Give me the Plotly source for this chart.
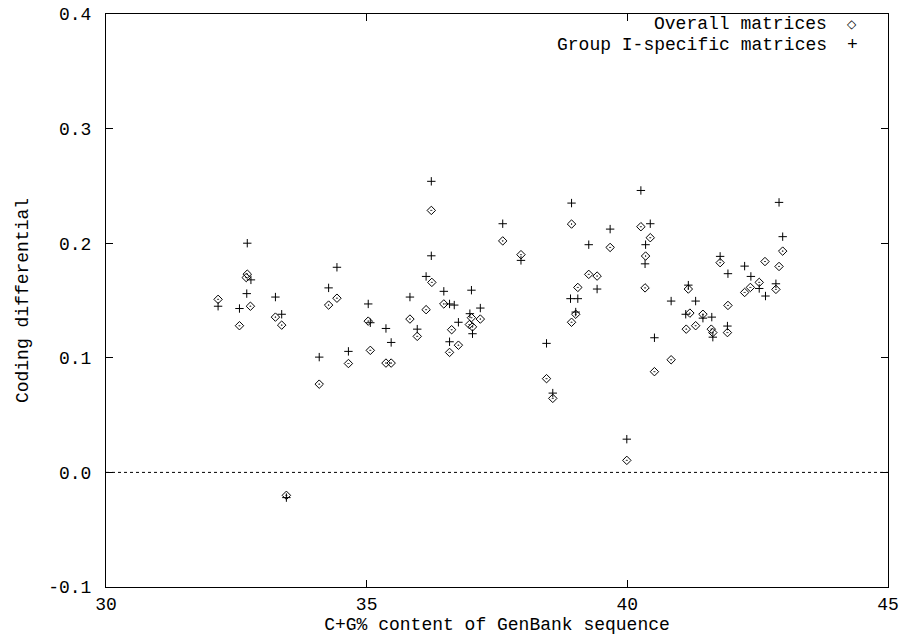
import plotly.graph_objects as go

# Overall matrices (diamonds)
overall_x = [32.15, 32.56, 32.71, 32.69, 32.77, 33.25, 33.37, 33.46, 34.09, 34.27,
             34.43, 34.65, 35.03, 35.07, 35.37, 35.47, 35.83, 35.97, 36.14, 36.24,
             36.25, 36.48, 36.63, 36.59, 36.76, 37.01, 36.97, 37.03, 37.18, 37.61,
             37.96, 38.45, 38.57, 38.93, 38.93, 39.01, 39.05, 39.26, 39.42, 39.67,
             39.99, 40.26, 40.44, 40.35, 40.34, 40.52, 40.84, 41.17, 41.20, 41.13,
             41.31, 41.45, 41.61, 41.64, 41.78, 41.93, 41.92, 42.25, 42.36, 42.53,
             42.64, 42.85, 42.91, 42.98]
overall_y = [0.151, 0.128, 0.173, 0.170, 0.145, 0.1355, 0.1285, -0.020, 0.077, 0.146,
             0.152, 0.095, 0.132, 0.1065, 0.0954, 0.0954, 0.1338, 0.1187, 0.142, 0.2286,
             0.1658, 0.147, 0.1245, 0.1047, 0.111, 0.135, 0.129, 0.127, 0.1338, 0.202,
             0.190, 0.0818, 0.0646, 0.2167, 0.131, 0.138, 0.1614, 0.1728, 0.1713, 0.1963,
             0.0105, 0.2144, 0.2048, 0.1888, 0.161, 0.0879, 0.0983, 0.160, 0.139, 0.125,
             0.128, 0.138, 0.125, 0.122, 0.183, 0.1457, 0.122, 0.157, 0.1614, 0.1658,
             0.184, 0.1597, 0.1797, 0.1931]

# Group I-specific matrices (plus signs)
group_x = [32.15, 32.56, 32.71, 32.78, 32.70, 33.25, 33.37, 33.46, 34.09, 34.27,
           34.43, 34.65, 35.03, 35.07, 35.37, 35.47, 35.83, 35.97, 36.14, 36.24,
           36.24, 36.48, 36.59, 36.68, 36.76, 36.59, 37.01, 36.98, 37.03, 37.18,
           37.61, 37.96, 38.45, 38.57, 38.93, 38.91, 39.05, 39.01, 39.26, 39.42,
           39.67, 39.99, 40.26, 40.44, 40.35, 40.34, 40.52, 40.84, 41.17, 41.31,
           41.12, 41.45, 41.62, 41.64, 41.78, 41.93, 41.92, 42.25, 42.37, 42.53,
           42.65, 42.85, 42.91, 42.98]
group_y = [0.145, 0.143, 0.200, 0.168, 0.156, 0.153, 0.138, -0.022, 0.1006, 0.161,
           0.179, 0.1056, 0.147, 0.1306, 0.1256, 0.1134, 0.153, 0.125, 0.171, 0.254,
           0.189, 0.158, 0.147, 0.146, 0.131, 0.114, 0.159, 0.1385, 0.121, 0.1434,
           0.217, 0.185, 0.1126, 0.0692, 0.235, 0.1516, 0.1516, 0.1399, 0.1987, 0.160,
           0.2123, 0.029, 0.246, 0.217, 0.1987, 0.182, 0.1175, 0.1495, 0.1634, 0.1495,
           0.138, 0.1346, 0.1355, 0.118, 0.1885, 0.1734, 0.1277, 0.180, 0.171, 0.1605,
           0.1539, 0.1646, 0.2356, 0.2057]

x_ticks = [30, 35, 40, 45]
y_ticks = [-0.1, 0.0, 0.1, 0.2, 0.3, 0.4]
x_tick_labels = ["30", "35", "40", "45"]
y_tick_labels = ["-0.1", "0.0", "0.1", "0.2", "0.3", "0.4"]

FONT = "Liberation Mono"
FS = 18

fig = go.Figure()
fig.add_trace(go.Scatter(
    x=overall_x, y=overall_y, mode="markers", name="Overall matrices",
    marker=dict(symbol="diamond-open-dot", size=6.5, color="black", line=dict(width=1, color="black")),
))
fig.add_trace(go.Scatter(
    x=group_x, y=group_y, mode="markers", name="Group I-specific matrices",
    marker=dict(symbol="cross-thin-open", size=6, color="black", line=dict(width=1, color="black")),
))

fig.add_shape(type="line", xref="paper", yref="y", x0=0, x1=1, y0=0, y1=0,
              line=dict(color="black", width=1, dash="dot"), layer="below")

fig.add_annotation(xref="paper", yref="paper", x=0.925, y=0.9825, xanchor="right", yanchor="middle",
                   text="Overall matrices", showarrow=False, font=dict(family=FONT, size=FS, color="black"))
fig.add_annotation(xref="paper", yref="paper", x=0.925, y=0.946, xanchor="right", yanchor="middle",
                   text="Group I-specific matrices", showarrow=False, font=dict(family=FONT, size=FS, color="black"))
fig.add_annotation(xref="paper", yref="paper", x=0.954, y=0.9825, xanchor="center", yanchor="middle",
                   text="◇", showarrow=False, font=dict(family="DejaVu Sans", size=12, color="black"))
fig.add_annotation(xref="paper", yref="paper", x=0.954, y=0.946, xanchor="center", yanchor="middle",
                   text="+", showarrow=False, font=dict(family=FONT, size=FS, color="black"))

axis_common = dict(showline=True, linecolor="black", linewidth=1, mirror="allticks",
                   ticks="inside", ticklen=7, tickcolor="black", showgrid=False, zeroline=False,
                   automargin=False, tickfont=dict(family=FONT, size=FS, color="black"))

fig.update_layout(
    width=903, height=637,
    margin=dict(l=106, r=15, t=14, b=50),
    paper_bgcolor="white", plot_bgcolor="white",
    showlegend=False,
    font=dict(family=FONT, color="black"),
    xaxis=dict(range=[30, 45], tickvals=x_ticks, ticktext=x_tick_labels, ticklabelstandoff=0,
               title=dict(text="C+G% content of GenBank sequence", font=dict(family=FONT, size=FS), standoff=3),
               **axis_common),
    yaxis=dict(range=[-0.1, 0.4], tickvals=y_ticks, ticktext=y_tick_labels, ticklabelstandoff=10,
               title=dict(text="Coding differential", font=dict(family=FONT, size=FS), standoff=14),
               **axis_common),
)

fig.write_html("out.html", config={"displayModeBar": False},
               post_script="document.body.style.margin='0px';document.body.style.padding='0px';")
